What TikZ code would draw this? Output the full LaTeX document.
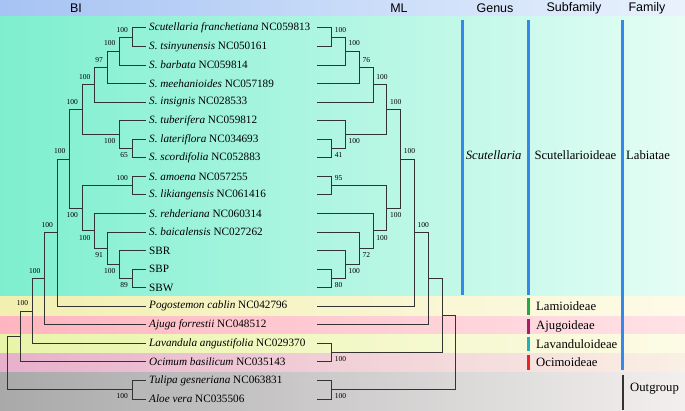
\documentclass[tikz,border=0pt]{standalone}
\usepackage{fontspec}
\setmainfont{Liberation Serif}
\setsansfont{Liberation Sans}
\usepackage{tikz}
\definecolor{hdrL}{HTML}{A6C3F3}
\definecolor{hdrR}{HTML}{E9F2FD}
\definecolor{grnL}{HTML}{7DEFCF}
\definecolor{grnR}{HTML}{E5FDF5}
\definecolor{yelL}{HTML}{F2EFB0}
\definecolor{yelR}{HTML}{FDFBE8}
\definecolor{pnkL}{HTML}{FFB5C0}
\definecolor{pnkR}{HTML}{FFE2E6}
\definecolor{ygnL}{HTML}{E8F5A8}
\definecolor{ygnR}{HTML}{FDFBE6}
\definecolor{orcL}{HTML}{E8B0CC}
\definecolor{orcR}{HTML}{FAF0E4}
\definecolor{gryL}{HTML}{A9A9A9}
\definecolor{gryR}{HTML}{F3EFEF}
\definecolor{colblue}{HTML}{3388EE}
\definecolor{lamgreen}{HTML}{22AA44}
\definecolor{ajumag}{HTML}{B0186A}
\definecolor{lavteal}{HTML}{20B0C0}
\definecolor{ocired}{HTML}{EE2222}

\begin{document}
\begin{tikzpicture}[x=1pt,y=-1pt]
    \tikzstyle{clade} = [draw=black!80, line width=1pt]
    \tikzstyle{taxon} = [anchor=west, inner sep=3pt, font=\fontsize{11.2}{13}\selectfont]
    \tikzstyle{bsval} = [inner sep=0, font=\fontsize{7.5}{8}\selectfont]
    \tikzstyle{bsul} = [bsval, anchor=south east, xshift=-4pt, yshift=5pt]
    \tikzstyle{bsdl} = [bsval, anchor=north east, xshift=-4pt, yshift=-4pt]
    \tikzstyle{bsur} = [bsval, anchor=south west, xshift=3pt, yshift=5pt]
    \tikzstyle{bsdr} = [bsval, anchor=north west, xshift=3pt, yshift=-4pt]
    \tikzstyle{headtxt} = [font=\sffamily\fontsize{12.5}{14}\selectfont]
    \tikzstyle{ranktxt} = [anchor=west, inner sep=0, font=\fontsize{12.7}{14}\selectfont]
    \tikzstyle{colline} = [line width=2.5pt]
    \useasboundingbox (0,0) rectangle (685,411);

    % bands
    \shade[left color=hdrL, right color=hdrR] (0,0) rectangle (685,17);
    \shade[left color=grnL, right color=grnR] (0,17) rectangle (685,297);
    \shade[left color=yelL, right color=yelR] (0,297) rectangle (685,317);
    \shade[left color=pnkL, right color=pnkR] (0,317) rectangle (685,335);
    \shade[left color=ygnL, right color=ygnR] (0,335) rectangle (685,354);
    \shade[left color=orcL, right color=orcR] (0,354) rectangle (685,372);
    \shade[left color=gryL, right color=gryR] (0,372) rectangle (685,411);

    \node[headtxt] (hBI) at (76,8) {BI};
    \node[headtxt] (hML) at (399,8) {ML};
    \node[headtxt] (hGen) at (495,8) {Genus};
    \node[headtxt] (hSub) at (574,8) {Subfamily};
    \node[headtxt] (hFam) at (647,8) {Family};

    % taxa
    \foreach \i/\txt in {1/{\textit{Scutellaria franchetiana} NC059813}, 2/{\textit{S. tsinyunensis} NC050161},
        3/{\textit{S. barbata} NC059814}, 4/{\textit{S. meehanioides} NC057189}, 5/{\textit{S. insignis} NC028533},
        6/{\textit{S. tuberifera} NC059812}, 7/{\textit{S. lateriflora} NC034693}, 8/{\textit{S. scordifolia} NC052883},
        9/{\textit{S. amoena} NC057255}, 10/{\textit{S. likiangensis} NC061416}, 11/{\textit{S. rehderiana} NC060314},
        12/{\textit{S. baicalensis} NC027262}, 13/SBR, 14/SBP, 15/SBW, 16/{\textit{Pogostemon cablin} NC042796},
        17/{\textit{Ajuga forrestii} NC048512}, 18/{\textit{Lavandula angustifolia} NC029370},
        19/{\textit{Ocimum basilicum} NC035143}, 20/{\textit{Tulipa gesneriana} NC063831}, 21/{\textit{Aloe vera} NC035506}}
    {
        \node[taxon] (t\i) at (146,{28+(\i-1)*18.55}) {\txt};
        \coordinate (u\i) at (317,{28+(\i-1)*18.55});
    }

    % BI tree
    \coordinate (biA) at (132,37.28);
    \coordinate (biB) at (119.5,51.19);
    \coordinate (biC) at (107,67.42);
    \coordinate (biD) at (94.5,84.81);
    \coordinate (biE) at (82,109.74);
    \coordinate (biH) at (119.5,134.66);
    \coordinate (biI) at (132,148.58);
    \coordinate (biG) at (69.5,159.01);
    \coordinate (biJ) at (132,185.68);
    \coordinate (biK) at (82,208.28);
    \coordinate (biL) at (94.5,230.89);
    \coordinate (biM) at (107,248.28);
    \coordinate (biN) at (119.5,264.51);
    \coordinate (biO) at (132,278.43);
    \coordinate (biP) at (57,232.63);
    \coordinate (biQ) at (44.5,278.72);
    \coordinate (biR) at (32.3,311.04);
    \coordinate (biS) at (20,336.47);
    \coordinate (biU) at (132,389.73);
    \coordinate (biT) at (7.5,363.10);
    \foreach \p/\c in {biA/t1.west, biA/t2.west, biB/biA, biB/t3.west, biC/biB, biC/t4.west, biD/biC, biD/t5.west,
        biI/t7.west, biI/t8.west, biH/t6.west, biH/biI, biE/biD, biE/biH, biJ/t9.west, biJ/t10.west,
        biO/t14.west, biO/t15.west, biN/t13.west, biN/biO, biM/t12.west, biM/biN, biL/t11.west, biL/biM,
        biK/biJ, biK/biL, biG/biE, biG/biK, biP/biG, biP/t16.west, biQ/biP, biQ/t17.west,
        biR/biQ, biR/t18.west, biS/biR, biS/t19.west, biU/t20.west, biU/t21.west, biT/biS, biT/biU}
        \draw[clade] (\p) |- (\c);
    \foreach \n/\v in {biA/100, biB/100, biC/97, biD/100, biE/100, biG/100, biJ/100, biP/100, biQ/100, biR/100}
        \node[bsul] (v\n) at (\n) {\v};
    \foreach \n/\v in {biH/100, biI/65, biK/100, biL/100, biM/91, biN/100, biO/89, biU/100}
        \node[bsdl] (v\n) at (\n) {\v};

    % ML tree
    \coordinate (mlA) at (331.7,37.28);
    \coordinate (mlB) at (345.5,51.19);
    \coordinate (mlC) at (359.3,67.42);
    \coordinate (mlD) at (373.1,84.81);
    \coordinate (mlE) at (386.9,109.74);
    \coordinate (mlH) at (345.5,134.66);
    \coordinate (mlI) at (331.7,148.58);
    \coordinate (mlG) at (400.7,159.01);
    \coordinate (mlJ) at (331.7,185.68);
    \coordinate (mlK) at (386.9,208.28);
    \coordinate (mlL) at (373.1,230.89);
    \coordinate (mlM) at (359.3,248.28);
    \coordinate (mlN) at (345.5,264.51);
    \coordinate (mlO) at (331.7,278.43);
    \coordinate (mlP) at (414.5,232.63);
    \coordinate (mlQ) at (428.3,278.72);
    \coordinate (mlV) at (331.7,352.63);
    \coordinate (mlW) at (442.1,315.68);
    \coordinate (mlU) at (331.7,389.73);
    \coordinate (mlX) at (455.9,352.70);
    \foreach \p/\c in {mlA/u1, mlA/u2, mlB/mlA, mlB/u3, mlC/mlB, mlC/u4, mlD/mlC, mlD/u5,
        mlI/u7, mlI/u8, mlH/u6, mlH/mlI, mlE/mlD, mlE/mlH, mlJ/u9, mlJ/u10,
        mlO/u14, mlO/u15, mlN/u13, mlN/mlO, mlM/u12, mlM/mlN, mlL/u11, mlL/mlM,
        mlK/mlJ, mlK/mlL, mlG/mlE, mlG/mlK, mlP/mlG, mlP/u16, mlQ/mlP, mlQ/u17,
        mlV/u18, mlV/u19, mlW/mlQ, mlW/mlV, mlU/u20, mlU/u21, mlX/mlW, mlX/mlU}
        \draw[clade] (\p) |- (\c);
    \foreach \n/\v in {mlA/100, mlB/100, mlC/76, mlD/100, mlE/100, mlG/100, mlJ/95, mlP/100}
        \node[bsur] (v\n) at (\n) {\v};
    \foreach \n/\v in {mlH/100, mlI/41, mlK/100, mlL/100, mlM/72, mlN/100, mlO/80, mlV/100, mlU/100}
        \node[bsdr] (v\n) at (\n) {\v};

    % classification
    \draw[colline, colblue] (462.3,20) -- (462.3,295);
    \draw[colline, colblue] (528.5,20) -- (528.5,295);
    \draw[colline, colblue] (622.7,20) -- (622.7,370);
    \draw[colline, lamgreen] (528.5,298.5) -- (528.5,315);
    \draw[colline, ajumag] (528.5,319.5) -- (528.5,334);
    \draw[colline, lavteal] (528.5,337) -- (528.5,351.5);
    \draw[colline, ocired] (528.5,355) -- (528.5,370);
    \draw[line width=2pt, black!80] (622.7,374.5) -- (622.7,409.5);

    \node[ranktxt, anchor=center] (gScu) at (493.7,155) {\textit{Scutellaria}};
    \node[ranktxt] (sScu) at (534.3,155) {Scutellarioideae};
    \node[ranktxt] (fLab) at (626,155) {Labiatae};
    \node[ranktxt] (sLam) at (536,306.5) {Lamioideae};
    \node[ranktxt] (sAju) at (536,326) {Ajugoideae};
    \node[ranktxt] (sLav) at (536,344.5) {Lavanduloideae};
    \node[ranktxt] (sOci) at (536,362) {Ocimoideae};
    \node[ranktxt] (fOut) at (630,389) {Outgroup};
\end{tikzpicture}
\end{document}
